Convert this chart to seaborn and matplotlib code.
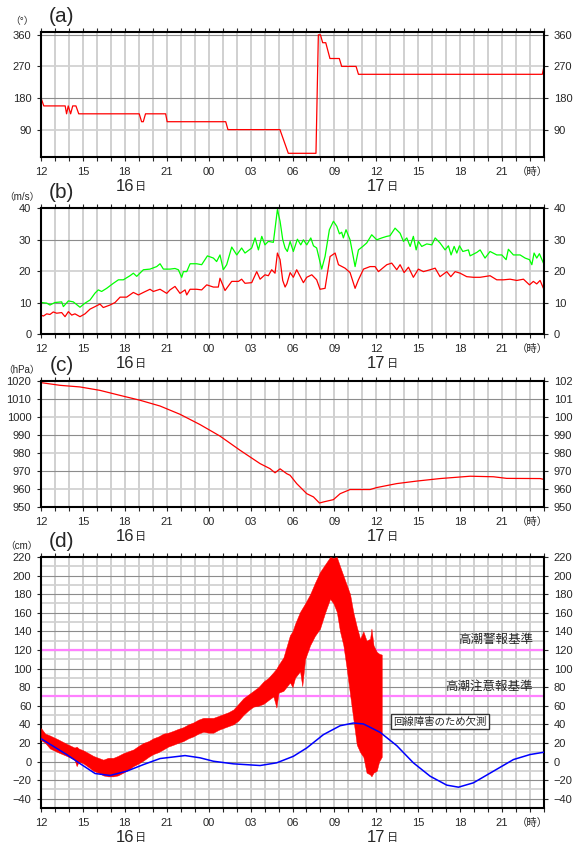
import numpy as np
import pandas as pd
import matplotlib
matplotlib.use("Agg")
import matplotlib.pyplot as plt
import seaborn as sns

sns.set_style("white")
plt.rcParams['font.family'] = ['Liberation Sans', 'Noto Sans CJK JP', 'DejaVu Sans']

# time axis: hours since 16th 12:00
hour_ticks = [0, 3, 6, 9, 12, 15, 18, 21, 24, 27, 30, 33]
hour_labels = ["12", "15", "18", "21", "00", "03", "06", "09", "12", "15", "18", "21"]

# (a) wind direction (deg)
dir_t = [0.0, 0.2, 1.73, 1.83, 1.95, 2.12, 2.27, 2.5, 2.7, 7.03, 7.2, 7.32, 7.48, 8.92, 9.03,
         13.22, 13.38, 17.1, 17.7, 19.68, 19.85, 20.0, 20.16, 20.38, 20.68, 21.35, 21.52,
         22.55, 22.72, 35.88, 36.0]
dir_v = [180, 157.5, 157.5, 135, 157.5, 135, 157.5, 157.5, 135, 135, 112.5, 112.5, 135, 135, 112.5,
         112.5, 90, 90, 22.5, 22.5, 360, 360, 337.5, 337.5, 292.5, 292.5, 270,
         270, 247.5, 247.5, 270]

# (b) wind speed (m/s): max gust (green) and mean (red)
gust_t = [0.0, 0.41, 0.64, 1.0, 1.48, 1.6, 1.96, 2.31, 2.79, 3.15, 3.51, 3.87, 4.1, 4.34, 4.7,
          5.18, 5.54, 5.89, 6.37, 6.61, 6.85, 7.33, 7.8, 8.28, 8.52, 8.76, 9.23, 9.59, 9.83,
          10.07, 10.19, 10.43, 10.67, 11.14, 11.5, 11.91, 12.34, 12.57, 12.81, 13.05, 13.29,
          13.65, 14.01, 14.36, 14.6, 15.08, 15.32, 15.56, 15.8, 16.03, 16.27, 16.63, 16.92,
          17.11, 17.3, 17.47, 17.63, 17.83, 18.06, 18.35, 18.59, 18.78, 19.02, 19.31, 19.5,
          19.73, 20.09, 20.33, 20.64, 20.93, 21.17, 21.36, 21.52, 21.64, 21.83, 22.12, 22.48,
          22.72, 23.03, 23.31, 23.67, 24.03, 24.39, 24.75, 24.98, 25.34, 25.7, 25.94, 26.18,
          26.42, 26.65, 26.85, 27.01, 27.25, 27.61, 27.97, 28.21, 28.56, 28.92, 29.16, 29.35,
          29.57, 29.76, 29.95, 30.19, 30.59, 30.71, 31.19, 31.43, 31.78, 32.14, 32.62, 32.98,
          33.29, 33.45, 33.81, 34.29, 34.65, 34.96, 35.13, 35.29, 35.48, 35.67, 35.96]
gust_v = [10.0, 9.8, 9.2, 10.0, 10.2, 8.7, 10.5, 10.2, 8.5, 9.8, 10.8, 13.0, 14.0, 13.5, 14.5,
          16.1, 17.2, 17.2, 18.5, 19.3, 18.3, 20.4, 20.6, 21.4, 22.3, 20.6, 20.6, 20.8, 20.4,
          18.0, 19.8, 19.8, 22.3, 22.3, 22.0, 24.8, 24.1, 23.0, 25.1, 20.4, 22.0,
          27.6, 25.1, 27.3, 25.7, 27.3, 30.5, 26.7, 31.0, 28.3, 29.4, 29.1, 39.5,
          35.8, 30.0, 27.3, 26.2, 29.4, 26.2, 30.1, 28.3, 29.9, 28.3, 30.5, 28.0,
          27.3, 20.6, 24.6, 33.1, 35.8, 34.2, 31.8, 32.3, 30.5, 33.1, 29.9, 21.4,
          26.7, 27.8, 28.9, 31.5, 29.9, 30.5, 31.0, 31.2, 33.6, 32.0, 29.4, 30.5,
          27.8, 31.0, 26.7, 29.4, 27.8, 28.6, 28.3, 30.5, 28.9, 26.7, 28.0, 25.1,
          27.8, 25.7, 28.0, 26.2, 26.7, 24.8, 25.9, 26.7, 24.1, 26.2, 25.1, 25.1,
          23.6, 26.9, 25.1, 25.1, 24.1, 23.6, 22.0, 25.7, 24.1, 25.5, 22.5]
mean_t = [0.0, 0.17, 0.41, 0.64, 0.88, 1.12, 1.48, 1.72, 1.96, 2.2, 2.43, 2.79, 3.15, 3.51, 3.87,
          4.22, 4.46, 4.94, 5.3, 5.66, 6.13, 6.61, 6.97, 7.33, 7.8, 8.04, 8.52, 9.0, 9.23, 9.59,
          9.95, 10.31, 10.43, 10.67, 11.14, 11.5, 11.86, 12.34, 12.69, 12.81, 13.17, 13.65,
          14.13, 14.36, 14.6, 15.08, 15.44, 15.68, 16.03, 16.27, 16.51, 16.75, 16.92, 17.11,
          17.3, 17.47, 17.6, 17.83, 18.06, 18.3, 18.78, 19.02, 19.38, 19.73, 19.97, 20.33,
          20.69, 21.05, 21.29, 21.76, 22.12, 22.48, 22.72, 23.08, 23.55, 23.91, 24.15, 24.75,
          25.1, 25.46, 25.7, 25.99, 26.3, 26.65, 27.01, 27.37, 27.85, 28.21, 28.56, 29.04,
          29.33, 29.64, 30.0, 30.47, 30.95, 31.43, 32.14, 32.62, 33.1, 33.57, 34.05, 34.53,
          34.96, 35.24, 35.48, 35.72, 35.96]
mean_v = [6.0, 5.7, 6.4, 6.2, 7.0, 6.6, 6.8, 5.5, 7.1, 6.0, 6.4, 5.5, 6.4, 7.9, 8.7,
          9.5, 8.4, 9.2, 10.0, 11.7, 11.7, 13.2, 12.4, 13.2, 14.2, 13.5, 14.2, 12.9, 14.0, 15.1,
          12.9, 14.0, 12.4, 14.2, 14.2, 14.0, 15.6, 14.9, 14.9, 17.7, 13.8, 16.7,
          16.7, 17.4, 16.1, 16.3, 19.8, 17.4, 18.8, 18.5, 20.4, 19.3, 25.7, 23.6,
          17.0, 14.9, 16.0, 19.5, 18.0, 20.4, 16.3, 18.0, 18.8, 17.2, 14.2, 14.5,
          24.6, 25.7, 22.0, 20.9, 19.5, 14.5, 17.2, 20.6, 21.4, 21.4, 19.8, 22.0,
          22.5, 20.4, 22.0, 19.5, 21.2, 18.0, 20.6, 19.8, 20.4, 20.9, 18.2, 19.8,
          18.2, 19.8, 19.3, 18.2, 18.0, 18.0, 18.5, 17.2, 17.2, 17.4, 17.0, 17.4,
          15.6, 16.7, 15.9, 17.0, 14.5]

# (c) sea level pressure (hPa)
pres_t = [0, 1.36, 2.79, 4.22, 5.66, 7.09, 8.52, 9.95, 11.38, 12.81, 14.25, 15.68, 16.39, 16.75,
          17.11, 17.59, 17.83, 18.3, 19.02, 19.5, 19.93, 20.21, 20.93, 21.41, 22.12, 23.55,
          24.03, 25.46, 26.89, 28.56, 30.71, 32.38, 33.33, 35.72, 35.96]
pres_v = [1019.1, 1017.6, 1016.7, 1014.8, 1012.0, 1009.3, 1006.1, 1001.5, 995.8, 989.4, 981.5,
          974.1, 971.3, 969.0, 971.2, 968.5, 967.6, 963.0, 957.4, 955.6, 952.2, 952.8, 954.1,
          957.4, 959.7, 959.7, 960.8, 963.0, 964.4, 965.8, 967.1, 966.8, 965.9, 965.8, 965.4]

# (d) observed tide (cm): low / high envelope of the fast oscillating record
tide_t = [0.0, 0.3, 0.64, 1.2, 1.84, 2.4, 2.55, 2.7, 3.03, 3.4, 3.75, 4.1, 4.46, 4.8, 5.18, 5.5,
          5.89, 6.25, 6.61, 7.0, 7.33, 7.7, 8.04, 8.4, 8.76, 9.1, 9.47, 9.8, 10.19, 10.55,
          10.9, 11.26, 11.62, 11.98, 12.34, 12.7, 13.05, 13.41, 13.77, 14.13, 14.48, 14.84,
          15.2, 15.56, 15.92, 16.27, 16.63, 16.85, 17.0, 17.35, 17.82, 18.0, 18.18, 18.54,
          18.7, 18.9, 19.26, 19.6, 19.97, 20.33, 20.69, 20.93, 21.17, 21.4, 21.64, 21.88,
          22.12, 22.36, 22.6, 22.84, 23.07, 23.3, 23.55, 23.65, 23.8, 24.03, 24.2, 24.39]
tide_lo = [23, 20, 14, 10, 6, 2, -5, 0, -2, -6, -10, -12, -15, -16, -16, -15,
           -12, -9, -5, -2, 1, 5, 8, 10, 13, 16, 18, 20, 22, 25,
           27, 30, 32, 31, 31, 34, 36, 38, 40, 44, 50, 55,
           59, 60, 62, 66, 70, 58, 74, 76, 85, 80, 90, 97,
           81, 110, 125, 135, 143, 160, 175, 170, 161, 140, 125, 100,
           72, 45, 18, 10, 5, -12, -14, -16, -12, -10, 0, 5]
tide_hi = [36, 30, 28, 24, 19, 15, 16, 14, 12, 9, 6, 4, 2, 4, 4, 6,
           9, 11, 13, 17, 20, 22, 25, 27, 30, 31, 33, 35, 37, 40,
           42, 45, 47, 47, 47, 49, 51, 53, 56, 62, 68, 72,
           76, 80, 86, 90, 96, 100, 104, 112, 136, 140, 148, 161,
           165, 170, 180, 192, 204, 212, 220, 219, 220, 210, 200, 190,
           180, 160, 145, 132, 140, 130, 132, 143, 125, 118, 116, 115]

# (d) astronomical tide (cm)
astro_t = [0, 1.84, 2.79, 3.87, 4.94, 6.13, 7.33, 8.52, 10.31, 11.38, 12.34, 13.77, 15.68,
           16.87, 18.06, 19.02, 20.21, 21.41, 22.36, 23.08, 24.27, 25.46, 26.65, 27.85,
           29.04, 29.88, 30.95, 32.38, 33.81, 35.0, 36.0]
astro_v = [24.6, 7.5, -2.2, -12.9, -15.0, -10.4, -3.3, 3.2, 6.4, 4.0, 0.3, -2.5, -4.3,
           -1.4, 5.6, 14.6, 28.9, 38.5, 41.4, 40.4, 31.4, 17.1, -1.4, -15.8,
           -25.4, -27.6, -22.9, -10.4, 2.1, 7.5, 10.0]

warn_levels = [120, 70]
warn_names = ["高潮警報基準", "高潮注意報基準"]

DARK = "#8c8c8c"
LIGHT = "#d2d2d2"


def style_axes(ax, ylim, yticks, hgrid, dark_first, unit, tag):
    ax.set_xlim(0, 36)
    ax.set_ylim(*ylim)
    for h in range(1, 36):
        ax.axvline(h, color="#c4c4c4", lw=1.1, zorder=0)
    for i, v in enumerate(hgrid):
        dark = (i % 2 == 0) == dark_first
        ax.axhline(v, color=DARK if dark else LIGHT, lw=0.8 if dark else 1.3, zorder=0)
    ax.set_xticks(hour_ticks)
    ax.set_xticklabels(hour_labels)
    ax.set_xticks(range(37), minor=True)
    ax.set_yticks(yticks)
    ax.tick_params(axis="x", which="both", direction="out", top=True, bottom=True,
                   labelsize=8, length=3, pad=4, width=0.8)
    ax.tick_params(axis="y", which="both", direction="out", left=True, right=True,
                   labelleft=True, labelright=True, labelsize=8, length=3, pad=4, width=0.8)
    for s in ax.spines.values():
        s.set_linewidth(1.5)
        s.set_color("black")
    ax.set_xlabel("")
    ax.set_ylabel("")
    xy = ("data", "axes fraction")
    for d, h in [("16", 6.66), ("17", 24.66)]:
        ax.annotate(d, xy=(h, 0), xycoords=xy, xytext=(0, -21), textcoords="offset points",
                    ha="right", va="center", fontsize=12)
        ax.annotate("日", xy=(h, 0), xycoords=xy, xytext=(1, -21.5), textcoords="offset points",
                    ha="left", va="center", fontsize=8)
    ax.annotate("（時）", xy=(35.15, 0), xycoords=xy, xytext=(0, -11), textcoords="offset points",
                ha="center", va="center", fontsize=7.5)
    ax.annotate(unit, xy=(0, 1), xycoords="axes fraction", xytext=(-14, 8),
                textcoords="offset points", ha="center", va="center", fontsize=7)
    ax.annotate(tag, xy=(0, 1), xycoords="axes fraction", xytext=(15, 11),
                textcoords="offset points", ha="center", va="center", fontsize=15)


fig = plt.figure(figsize=(5.73, 8.43), dpi=100)
W, H = 573, 843


def add_axes(top, bottom):
    return fig.add_axes([41 / W, 1 - bottom / H, 503 / W, (bottom - top) / H])


ax_a = add_axes(32, 157)
ax_b = add_axes(208, 334)
ax_c = add_axes(381, 507)
ax_d = add_axes(557, 808)

# (a)
sns.lineplot(x=dir_t, y=dir_v, ax=ax_a, color="red", lw=0.9, estimator=None, sort=False)
style_axes(ax_a, (12, 368), [90, 180, 270, 360], [90, 180, 270, 360], False, "（°）", "(a)")

# (b)
sns.lineplot(x=gust_t, y=gust_v, ax=ax_b, color="#00ff00", lw=0.9, estimator=None, sort=False)
sns.lineplot(x=mean_t, y=mean_v, ax=ax_b, color="red", lw=0.9, estimator=None, sort=False)
style_axes(ax_b, (0, 40), [0, 10, 20, 30, 40], [10, 20, 30], True, "（m/s）", "(b)")

# (c)
sns.lineplot(x=pres_t, y=pres_v, ax=ax_c, color="red", lw=0.9, estimator=None, sort=False)
style_axes(ax_c, (950, 1020), list(range(950, 1021, 10)), list(range(960, 1020, 10)), False,
           "（hPa）", "(c)")

# (d)
ax_d.fill_between(tide_t, tide_lo, tide_hi, color="red", lw=0.3, zorder=3)
sns.lineplot(x=astro_t, y=astro_v, ax=ax_d, color="blue", lw=1.1, estimator=None, sort=False,
             zorder=4)
for lev, name in zip(warn_levels, warn_names):
    ax_d.axhline(lev, color="#ff80ff", lw=1.6, zorder=2)
    ax_d.text(35.2, lev + 4, name, ha="right", va="bottom", fontsize=9)
ax_d.text(28.56, 43, "回線障害のため欠測", ha="center", va="center", fontsize=7.5, zorder=5,
          bbox=dict(boxstyle="square,pad=0.25", fc="white", ec="#333333", lw=1.0))
style_axes(ax_d, (-50, 220), list(range(-40, 221, 20)), list(range(-40, 220, 10)), True,
           "（cm）", "(d)")

fig.savefig("out.png", dpi=100)
